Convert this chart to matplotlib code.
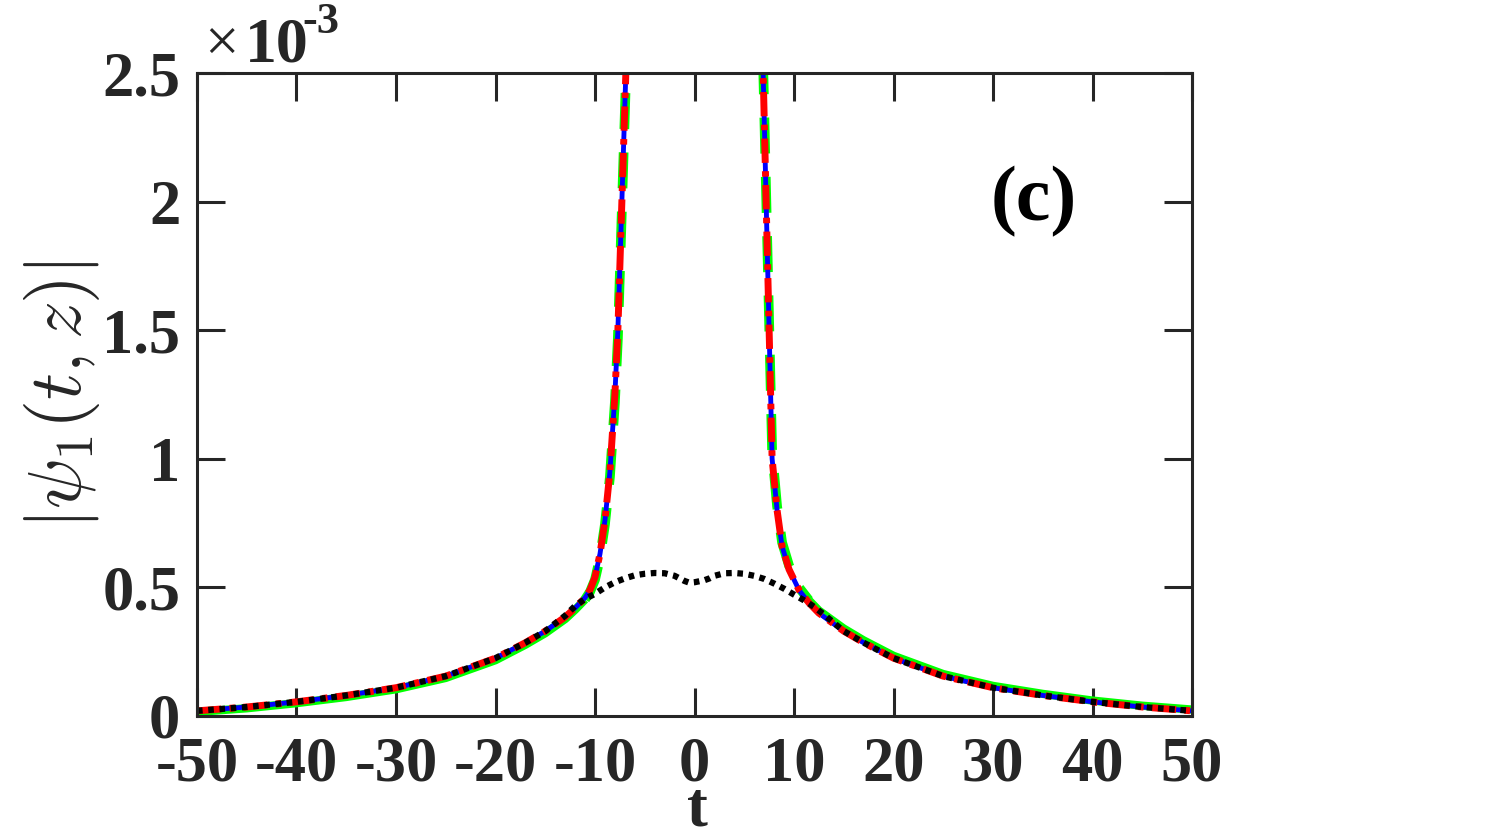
import numpy as np
import matplotlib
matplotlib.use("Agg")
import matplotlib.pyplot as plt

# curve data (values in units of 1e-3)
t_main = [-50, -45, -40, -35, -30, -25, -20, -17, -15, -13, -12, -11, -10.5, -10, -9.5, -9, -8.5, -8, -7.7, -7.3, -6.9, -6.5,
          0,
          6.5, 6.9, 7.2, 7.5, 7.8, 8.3, 8.8, 9.5, 10.5, 11.5, 12.5, 15, 17, 20, 25, 30, 35, 40, 45, 50]
psi_blue = [0.020, 0.035, 0.055, 0.080, 0.110, 0.155, 0.225, 0.285, 0.330, 0.385, 0.420, 0.460, 0.490, 0.540, 0.630, 0.760, 0.950, 1.250, 1.500, 2.000, 2.500, 3.200,
            30.0,
            3.200, 2.500, 2.000, 1.500, 1.000, 0.800, 0.660, 0.570, 0.490, 0.440, 0.400, 0.330, 0.285, 0.225, 0.155, 0.110, 0.080, 0.055, 0.035, 0.020]
psi_red = psi_blue
psi_green = [0.016, 0.030, 0.050, 0.074, 0.104, 0.148, 0.217, 0.277, 0.322, 0.377, 0.413, 0.453, 0.483, 0.530, 0.615, 0.745, 0.930, 1.220, 1.470, 1.970, 2.470, 3.150,
             30.0,
             3.250, 2.530, 2.030, 1.530, 1.030, 0.815, 0.675, 0.585, 0.500, 0.450, 0.410, 0.340, 0.294, 0.234, 0.163, 0.117, 0.086, 0.060, 0.040, 0.025]

t_dot = [-50, -45, -40, -35, -30, -25, -20, -17, -15, -13, -12, -11, -10, -9, -8, -7, -6, -5, -4, -3, -2, -1, -0.5, 0,
         0.5, 1, 1.5, 2, 3, 4, 5, 6, 7, 8, 9, 10, 11, 12, 13, 15, 17, 20, 25, 30, 35, 40, 45, 50]
psi_dot = [0.020, 0.035, 0.055, 0.080, 0.110, 0.155, 0.225, 0.285, 0.330, 0.390, 0.428, 0.455, 0.475, 0.500, 0.520, 0.535, 0.547, 0.553, 0.556, 0.555, 0.545, 0.525, 0.518, 0.520,
           0.524, 0.528, 0.535, 0.545, 0.555, 0.556, 0.553, 0.545, 0.533, 0.515, 0.495, 0.472, 0.450, 0.425, 0.395, 0.330, 0.285, 0.225, 0.155, 0.110, 0.080, 0.055, 0.035, 0.020]

xticks = [-50, -40, -30, -20, -10, 0, 10, 20, 30, 40, 50]
yticks = [0, 0.5, 1, 1.5, 2, 2.5]
ytick_labels = ['0', '0.5', '1', '1.5', '2', '2.5']

plt.rcParams['font.family'] = ['Liberation Serif', 'DejaVu Serif']
plt.rcParams['mathtext.fontset'] = 'cm'
dark = '#262626'

fig = plt.figure(figsize=(15.11, 8.36), dpi=100)
ax = fig.add_axes([197 / 1511, 1 - 716 / 836, (1192 - 197) / 1511, (716 - 73) / 836])

tg = np.array(t_main)
gy = np.array(psi_green)
# green: solid in the tails, dashed near the peaks
ax.plot(tg[tg <= -11], gy[tg <= -11], color='#00ff00', lw=6, solid_capstyle='butt')
ax.plot(tg[tg >= 11.5], gy[tg >= 11.5], color='#00ff00', lw=6, solid_capstyle='butt')
ax.plot(tg[np.abs(tg) <= 11.5], gy[np.abs(tg) <= 11.5], color='#00ff00', lw=7, dashes=(3.7, 2.4))
ax.plot(t_main, psi_blue, color='#0000ff', lw=3.5)
ax.plot(t_main, psi_red, color='#ff0000', lw=5, dashes=(3.5, 1.2, 0.8, 1.2))
ax.plot(t_dot, psi_dot, color='black', lw=4.5, dashes=(0.9, 0.9))

ax.set_xlim(-50, 50)
ax.set_ylim(0, 2.5)
ax.set_xticks(xticks)
ax.set_xticklabels([str(v) for v in xticks])
ax.set_yticks(yticks)
ax.set_yticklabels(ytick_labels)

for s in ax.spines.values():
    s.set_linewidth(2.2)
    s.set_color(dark)
ax.tick_params(direction='in', length=20, width=2.2, color=dark, top=True, right=True,
               labelsize=45, labelcolor=dark)
ax.tick_params(axis='x', pad=15)
ax.tick_params(axis='y', pad=12)
for lab in ax.get_xticklabels() + ax.get_yticklabels():
    lab.set_fontweight('bold')

ax.set_xlabel('t', fontsize=45, fontweight='bold', color=dark)
ax.xaxis.set_label_coords((697 - 197) / (1192 - 197), -(810 - 716) / (716 - 73))
ax.xaxis.label.set_va('center')
ax.set_ylabel(r'$|\psi_1(t,z)|$', fontsize=54, color=dark)
ax.yaxis.set_label_coords(-(197 - 62) / (1192 - 197), (716 - 395) / (716 - 73))
ax.yaxis.label.set_va('center')

ax.text(34.1, 2.0, '(c)', fontsize=56, fontweight='bold', ha='center', va='center', color='black')

# exponent label
fig.text(204 / 1511, 1 - 62 / 836, '\u00d7', fontsize=44, color=dark, ha='left', va='baseline')
fig.text(245 / 1511, 1 - 62 / 836, '10', fontsize=46, fontweight='bold', color=dark, ha='left', va='baseline')
fig.text(302 / 1511, 1 - 33 / 836, '-3', fontsize=32, fontweight='bold', color=dark, ha='left', va='baseline')

fig.savefig('out.png', dpi=100)
